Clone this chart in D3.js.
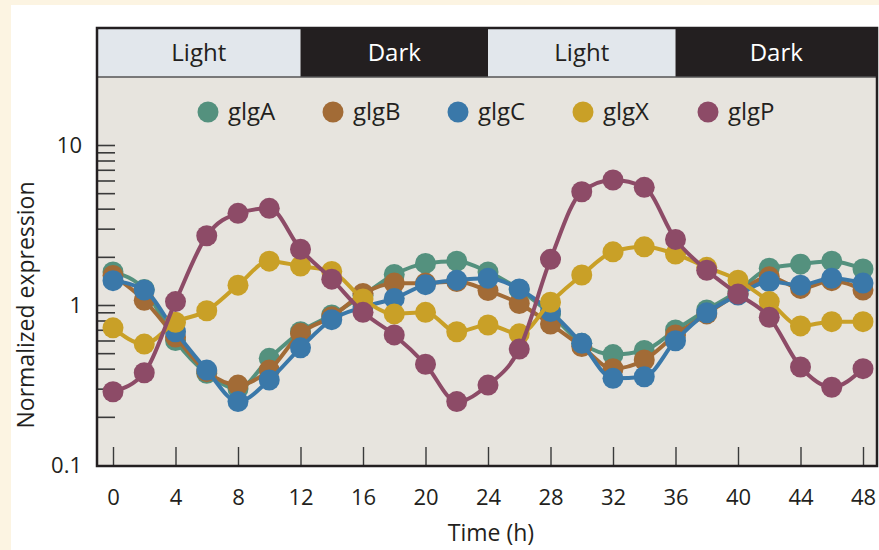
<!DOCTYPE html>
<html>
<head>
<meta charset="utf-8">
<script src="https://cdn.jsdelivr.net/npm/d3@7/dist/d3.min.js"></script>
<style>
  html, body { margin: 0; padding: 0; background: #fcf4e2; }
  svg { display: block; }
  text { font-family: "Open Sans", "DejaVu Sans", sans-serif; fill: #231f20; }
</style>
</head>
<body>
<svg id="chart" width="879" height="550"></svg>
<script>
// ---- data ----
const times = [0,2,4,6,8,10,12,14,16,18,20,22,24,26,28,30,32,34,36,38,40,42,44,46,48];
const seriesNames = ["glgA", "glgB", "glgC", "glgX", "glgP"];
const glgA = [1.61,1.25,0.60,0.374,0.30,0.464,0.68,0.866,1.15,1.55,1.82,1.88,1.61,1.25,0.88,0.576,0.49,0.52,0.698,0.93,1.22,1.70,1.80,1.88,1.68];
const glgB = [1.53,1.07,0.63,0.383,0.316,0.392,0.665,0.845,1.18,1.37,1.37,1.40,1.23,1.02,0.76,0.55,0.40,0.453,0.65,0.88,1.18,1.50,1.27,1.42,1.24];
const glgC = [1.42,1.24,0.68,0.392,0.249,0.34,0.54,0.81,0.97,1.10,1.34,1.43,1.47,1.26,0.91,0.576,0.348,0.356,0.598,0.895,1.155,1.40,1.33,1.47,1.37];
const glgX = [0.72,0.57,0.78,0.92,1.33,1.88,1.75,1.62,1.09,0.88,0.90,0.68,0.75,0.66,1.04,1.54,2.15,2.31,2.08,1.72,1.43,1.05,0.74,0.787,0.787];
const glgP = [0.287,0.377,1.05,2.71,3.74,4.02,2.23,1.45,0.90,0.65,0.426,0.249,0.316,0.53,1.93,5.1,6.04,5.44,2.57,1.65,1.17,0.838,0.41,0.306,0.40];
const seriesValues = [glgA, glgB, glgC, glgX, glgP];
const seriesColors = ["#54917e", "#a26b36", "#3a78a9", "#c9a027", "#8d4b67"];

const phaseLabels = ["Light", "Dark", "Light", "Dark"];
const phaseStarts = [0, 12, 24, 36];
const phaseEnds = [12, 24, 36, 48];

const xTicks = [0,4,8,12,16,20,24,28,32,36,40,44,48];
const yTicks = [0.2,0.3,0.4,0.5,0.6,0.7,0.8,0.9,1,2,3,4,5,6,7,8,9,10];
const yLabels = [0.1, 1, 10];

// ---- layout ----
const svg = d3.select("#chart");
const W = 879, H = 550;
const frame = { left: 97, right: 877, top: 28, bottom: 466, headerBottom: 77 };

svg.append("rect").attr("x", 0).attr("y", 0).attr("width", W).attr("height", H).attr("fill", "#fcf4e2");
svg.append("rect").attr("x", 11).attr("y", 5).attr("width", W - 11).attr("height", H - 5).attr("fill", "#ffffff");

const x = d3.scaleLinear().domain([0, 48]).range([113, 863]);
const y = d3.scaleLog().domain([0.1, 10]).range([465, 145]);

// plot background
svg.append("rect")
  .attr("x", frame.left).attr("y", frame.headerBottom)
  .attr("width", frame.right - frame.left).attr("height", frame.bottom - frame.headerBottom)
  .attr("fill", "#e7e4de");

// header (light/dark)
const header = svg.append("g");
phaseLabels.forEach((lab, i) => {
  const x0 = i === 0 ? frame.left : x(phaseStarts[i]);
  const x1 = i === phaseLabels.length - 1 ? frame.right : x(phaseEnds[i]);
  const isLight = lab === "Light";
  header.append("rect")
    .attr("x", x0).attr("y", frame.top)
    .attr("width", x1 - x0).attr("height", frame.headerBottom - frame.top)
    .attr("fill", isLight ? "#e2e7ec" : "#231f20");
  header.append("text")
    .attr("x", (x0 + x1) / 2).attr("y", (frame.top + frame.headerBottom) / 2)
    .attr("text-anchor", "middle").attr("dy", "0.35em")
    .style("font-size", "24px")
    .style("fill", isLight ? "#231f20" : "#ffffff")
    .text(lab);
});
svg.append("line")
  .attr("x1", frame.left).attr("x2", frame.right)
  .attr("y1", frame.headerBottom).attr("y2", frame.headerBottom)
  .attr("stroke", "#555").attr("stroke-width", 1.5);

// axes
const yAxis = d3.axisLeft(y)
  .tickValues(yTicks)
  .tickSize(-18)
  .tickFormat("");
const gy = svg.append("g").attr("transform", `translate(${frame.left},0)`).call(yAxis);
gy.select(".domain").remove();
gy.selectAll(".tick line").attr("stroke", "#3a3a3a").attr("stroke-width", 1.6);

svg.append("g").selectAll("text").data(yLabels).join("text")
  .attr("x", frame.left - 15).attr("y", d => y(d))
  .attr("dy", "0.35em").attr("text-anchor", "end")
  .style("font-size", "22px")
  .text(d => d3.format("~g")(d));

const xAxis = d3.axisBottom(x)
  .tickValues(xTicks)
  .tickSize(-19)
  .tickPadding(23)
  .tickFormat(d3.format("d"));
const gx = svg.append("g").attr("transform", `translate(0,${frame.bottom})`).call(xAxis);
gx.select(".domain").remove();
gx.selectAll(".tick line").attr("stroke", "#3a3a3a").attr("stroke-width", 1.4);
gx.selectAll(".tick text").style("font-size", "22px").style("font-family", "'Open Sans', sans-serif").attr("fill", "#231f20");

// axis titles
svg.append("text")
  .attr("x", 491).attr("y", 533).attr("dy", "0.35em")
  .attr("text-anchor", "middle").style("font-size", "23px")
  .text("Time (h)");
svg.append("text")
  .attr("transform", "translate(26,305) rotate(-90)")
  .attr("dy", "0.35em")
  .attr("text-anchor", "middle").style("font-size", "23px")
  .text("Normalized expression");

// series
const line = d3.line()
  .x((d, i) => x(times[i]))
  .y(d => y(d))
  .curve(d3.curveMonotoneX);

seriesValues.forEach((vals, s) => {
  const g = svg.append("g");
  g.append("path")
    .attr("d", line(vals))
    .attr("fill", "none")
    .attr("stroke", seriesColors[s])
    .attr("stroke-width", 4);
  g.selectAll("circle").data(vals).join("circle")
    .attr("cx", (d, i) => x(times[i]))
    .attr("cy", d => y(d))
    .attr("r", 10.5)
    .attr("fill", seriesColors[s]);
});

// legend
const legend = svg.append("g");
seriesNames.forEach((name, i) => {
  const lx = 208 + i * 125;
  legend.append("circle").attr("cx", lx).attr("cy", 112).attr("r", 10.5).attr("fill", seriesColors[i]);
  legend.append("text").attr("x", lx + 20).attr("y", 112).attr("dy", "0.35em")
    .style("font-size", "24px").text(name);
});

// frame
svg.append("rect")
  .attr("x", frame.left).attr("y", frame.top)
  .attr("width", frame.right - frame.left).attr("height", frame.bottom - frame.top)
  .attr("fill", "none").attr("stroke", "#231f20").attr("stroke-width", 2.5);
</script>
</body>
</html>
